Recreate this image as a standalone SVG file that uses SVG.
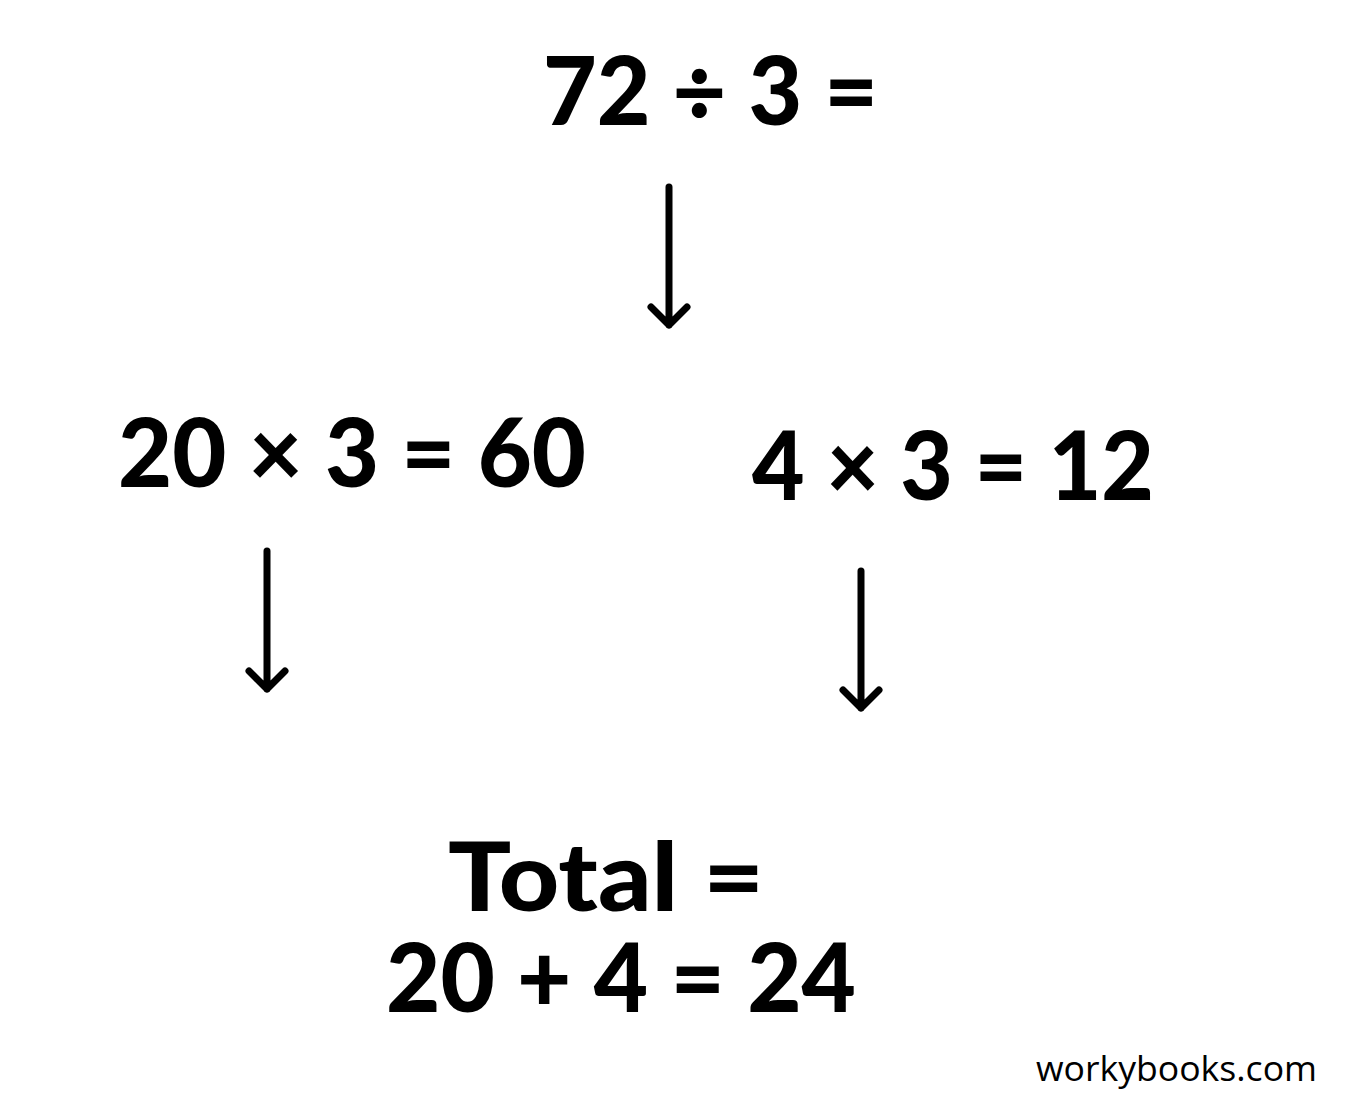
<svg xmlns="http://www.w3.org/2000/svg" width="1346" height="1106" viewBox="0 0 1346 1106">
<style>
.eq{font-family:Lato,"Noto Sans","Liberation Sans",sans-serif;font-weight:900;font-size:96px;fill:#000}
.wm{font-family:"Open Sans","Noto Sans","Liberation Sans",sans-serif;font-size:35px;fill:#000}
.arr{fill:none;stroke:#000;stroke-width:7;stroke-linecap:round;stroke-linejoin:round}
</style>
<rect width="1346" height="1106" fill="#fff"/>
<g id="n-top"><text class="eq" x="543" y="125" textLength="335" lengthAdjust="spacingAndGlyphs">72 ÷ 3 =</text></g>
<g id="n-left"><text class="eq" x="118" y="487" textLength="468" lengthAdjust="spacingAndGlyphs">20 × 3 = 60</text></g>
<g id="n-right"><text class="eq" x="752" y="500" textLength="402" lengthAdjust="spacingAndGlyphs">4 × 3 = 12</text></g>
<g id="n-total"><text class="eq"><tspan x="448" y="911" textLength="316" lengthAdjust="spacingAndGlyphs">Total =</tspan><tspan x="386" y="1012" textLength="470" lengthAdjust="spacingAndGlyphs">20 + 4 = 24</tspan></text></g>
<g id="watermark"><text class="wm" x="1036" y="1081" textLength="281" lengthAdjust="spacingAndGlyphs">workybooks.com</text></g>
<g id="connectors">
<path class="arr" d="M669 187V325M651 307L669 325L687 307"/>
<path class="arr" d="M267 551V689M249 671L267 689L285 671"/>
<path class="arr" d="M861 571V708M843 690L861 708L879 690"/>
</g>
</svg>
